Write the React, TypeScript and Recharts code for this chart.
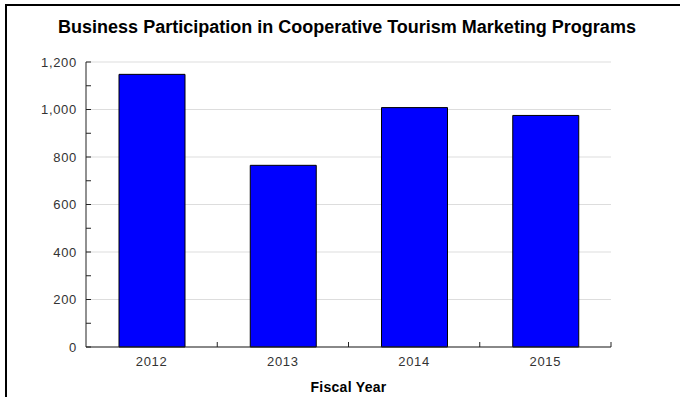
import React from 'react';
import { BarChart, Bar, XAxis, YAxis, CartesianGrid, Label } from 'recharts';

const chartTitle = 'Business Participation in Cooperative Tourism Marketing Programs';
const xAxisTitle = 'Fiscal Year';
const years = ['2012', '2013', '2014', '2015'];
const participants = [1148, 765, 1008, 975];
const yTicks = [0, 100, 200, 300, 400, 500, 600, 700, 800, 900, 1000, 1100, 1200];
const yLabelTicks = [0, 200, 400, 600, 800, 1000, 1200];

const data = years.map((year, i) => ({ year, value: participants[i] }));

const FONT = '"Liberation Sans", Arial, sans-serif';
const AXIS = '#222';

const Y_MARGIN = 10;
const X_MARGIN = 10;

const YTick = (props: any) => {
  const { x, y, payload } = props;
  const axisX = x + Y_MARGIN;
  const v = payload.value as number;
  const show = yLabelTicks.includes(v);
  return (
    <g>
      <line x1={axisX} x2={axisX + 5} y1={y} y2={y} stroke={AXIS} strokeWidth={1} />
      {show && (
        <text x={x + 1} y={y} dy="0.35em" textAnchor="end" fontSize={13} letterSpacing={0.7} fill="#333" fontFamily={FONT}>
          {v.toLocaleString('en-US')}
        </text>
      )}
    </g>
  );
};

const XTick = (props: any) => {
  const { x, y, payload, width, visibleTicksCount } = props;
  const axisY = y - X_MARGIN;
  const half = width && visibleTicksCount ? width / visibleTicksCount / 2 : 0;
  return (
    <g>
      {half > 0 && (
        <line x1={x + half} x2={x + half} y1={axisY} y2={axisY - 5} stroke={AXIS} strokeWidth={1} />
      )}
      <text x={x} y={y} dy="0.71em" textAnchor="middle" fontSize={13} letterSpacing={0.7} fill="#333" fontFamily={FONT}>
        {payload.value}
      </text>
    </g>
  );
};

export default function App() {
  return (
    <div style={{ position: 'absolute', left: 0, top: 0, width: 680, height: 397, overflow: 'hidden', background: '#fff' }}>
      <div
        style={{
          position: 'absolute',
          left: 5,
          top: 4,
          width: 700,
          height: 420,
          borderLeft: '2px solid #000',
          borderTop: '2px solid #000',
        }}
      />
      <div
        style={{
          position: 'absolute',
          left: 0,
          top: 17,
          width: 694,
          textAlign: 'center',
          fontFamily: FONT,
          fontWeight: 'bold',
          fontSize: 18,
          lineHeight: '20px',
          color: '#000',
        }}
      >
        {chartTitle}
      </div>
      <div style={{ position: 'absolute', left: 0, top: 0 }}>
        <BarChart width={680} height={397} data={data} margin={{ top: 62, right: 69, bottom: 0, left: 26 }}>
          <CartesianGrid vertical={false} horizontalValues={yLabelTicks} stroke="#ddd" />
          <YAxis
            width={60}
            domain={[0, 1200]}
            ticks={yTicks}
            interval={0}
            tick={<YTick />}
            tickLine={false}
            tickSize={0}
            tickMargin={Y_MARGIN}
            axisLine={{ stroke: AXIS }}
          />
          <XAxis
            dataKey="year"
            height={50}
            interval={0}
            tick={<XTick />}
            tickLine={false}
            tickSize={0}
            tickMargin={X_MARGIN}
            axisLine={{ stroke: AXIS }}
          >
            <Label
              value={xAxisTitle}
              position="insideBottom"
              offset={5}
              style={{ fontFamily: FONT, fontWeight: 'bold', fontSize: 14, letterSpacing: 0.3, fill: '#000' }}
            />
          </XAxis>
          <Bar dataKey="value" fill="#0000FF" stroke="#000" strokeWidth={1} barSize={66} isAnimationActive={false} />
        </BarChart>
      </div>
    </div>
  );
}
